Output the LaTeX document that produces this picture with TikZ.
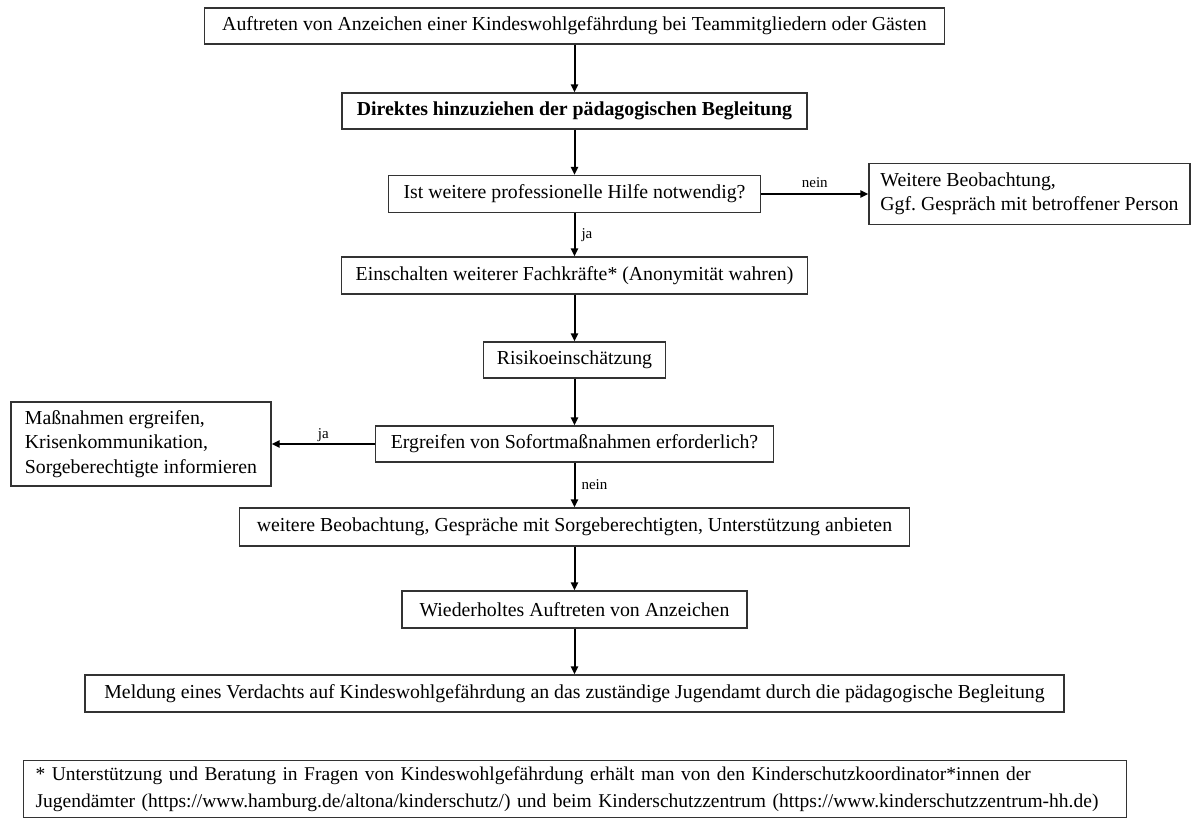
\documentclass[tikz,border=0pt]{standalone}
\usepackage{fontspec}
\setmainfont{Liberation Serif}
\usetikzlibrary{arrows.meta}
\frenchspacing
\begin{document}
\begin{tikzpicture}[x=1pt,y=-1pt,
  box/.style={draw=black!80,line width=1.1pt,inner sep=0pt,minimum height=36pt,align=center,font=\fontsize{19.8}{24}\selectfont},
  lbox/.style={draw=black!80,line width=1.1pt,inner sep=0pt,align=left,font=\fontsize{19.8}{24.5}\selectfont},
  arr/.style={line width=2pt,-{Triangle[length=8pt,width=7pt]}},
  lab/.style={font=\fontsize{15}{17}\selectfont,inner sep=0pt}]
\useasboundingbox (0,0) rectangle (1194,818);
\node[box,minimum width=740pt] (top) at (574.5,26) {Auftreten von Anzeichen einer Kindeswohlgefährdung bei Teammitgliedern oder Gästen};
\node[box,minimum width=465pt,font=\fontsize{19.8}{24}\selectfont\bfseries] (bold) at (574.5,111) {Direktes hinzuziehen der pädagogischen Begleitung};
\node[box,minimum width=372pt,minimum height=37pt] (q1) at (574.5,194) {Ist weitere professionelle Hilfe notwendig?};
\node[lbox,minimum width=321pt,minimum height=61pt] (rbox) at (1029.5,194) {Weitere Beobachtung,\\Ggf. Gespräch mit betroffener Person};
\node[box,minimum width=466pt,minimum height=37pt] (ein) at (574.5,275.5) {Einschalten weiterer Fachkräfte* (Anonymität wahren)};
\node[box,minimum width=182pt] (risk) at (574.5,360) {Risikoeinschätzung};
\node[box,minimum width=398pt] (sof) at (574.5,444) {Ergreifen von Sofortmaßnahmen erforderlich?};
\node[lbox,minimum width=260pt,minimum height=84pt] (mass) at (141,444) {Maßnahmen ergreifen,\\Krisenkommunikation,\\Sorgeberechtigte informieren};
\node[box,minimum width=670pt,minimum height=38pt] (weit) at (574.5,527) {weitere Beobachtung, Gespräche mit Sorgeberechtigten, Unterstützung anbieten};
\node[box,minimum width=345pt,minimum height=37pt] (wied) at (574.5,609.5) {Wiederholtes Auftreten von Anzeichen};
\node[box,minimum width=979pt,minimum height=37pt] (meld) at (574.5,693.5) {Meldung eines Verdachts auf Kindeswohlgefährdung an das zuständige Jugendamt durch die pädagogische Begleitung};
\node[lbox,anchor=north west,minimum width=1103pt,minimum height=57pt,inner xsep=12pt,text width=1079pt,font=\fontsize{19.5}{27}\selectfont] (foot) at (23,760) {* Unterstützung und Beratung in Fragen von Kindeswohlgefährdung erhält man von den Kinderschutzkoordinator*innen der\\Jugendämter (https://www.hamburg.de/altona/kinderschutz/) und beim Kinderschutzzentrum (https://www.kinderschutzzentrum-hh.de)};
\draw[arr] (top) -- (bold);
\draw[arr] (bold) -- (q1);
\draw[arr] (q1) -- node[lab,right=6pt,pos=0.5] (ja1) {ja} (ein);
\draw[arr] (q1) -- node[lab,above=5pt] (nein1) {nein} (rbox);
\draw[arr] (ein) -- (risk);
\draw[arr] (risk) -- (sof);
\draw[arr] (sof) -- node[lab,above=1pt] (ja2) {ja} (mass);
\draw[arr] (sof) -- node[lab,right=6pt] (nein2) {nein} (weit);
\draw[arr] (weit) -- (wied);
\draw[arr] (wied) -- (meld);
\end{tikzpicture}
\end{document}
